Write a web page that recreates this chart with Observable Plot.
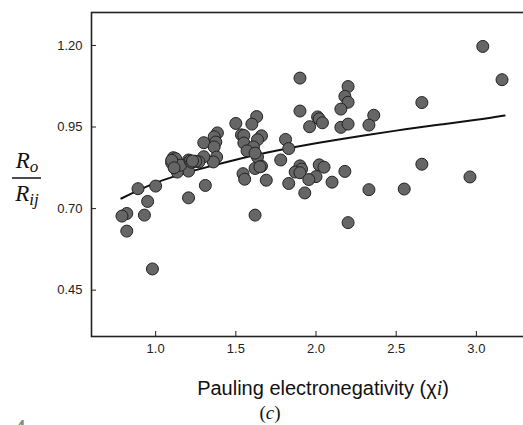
<!DOCTYPE html>
<html>
<head>
<meta charset="utf-8">
<script src="https://cdn.jsdelivr.net/npm/d3@7"></script>
<script src="https://cdn.jsdelivr.net/npm/@observablehq/plot@0.6"></script>
<style>
  html, body { margin: 0; padding: 0; background: #fff; overflow: hidden; }
  #wrap { position: relative; width: 523px; height: 425px; overflow: hidden; background: #fff; }
  #chart { position: absolute; left: 0; top: 0; width: 545px; }
  #chart svg { max-width: none !important; }
  #labels { position: absolute; left: 0; top: 0; }
</style>
</head>
<body>
<div id="wrap">
  <div id="chart"></div>
  <svg id="labels" width="523" height="425">
    <text x="323" y="395" text-anchor="middle" font-family="Liberation Sans, Arial, sans-serif" font-size="20" fill="#111">Pauling electronegativity (χ<tspan font-family="Liberation Serif, serif" font-style="italic">i</tspan>)</text>
    <text x="270" y="419" text-anchor="middle" font-family="Liberation Serif, serif" font-size="19" fill="#111">(<tspan font-style="italic">c</tspan>)</text>
    <text x="27" y="168" text-anchor="middle" font-family="Liberation Serif, serif" font-style="italic" font-size="23" fill="#111">R<tspan font-size="17" dy="4">o</tspan></text>
    <line x1="12" x2="41" y1="178" y2="178" stroke="#111" stroke-width="1.5"/>
    <text x="27" y="201" text-anchor="middle" font-family="Liberation Serif, serif" font-style="italic" font-size="23" fill="#111">R<tspan font-size="17" dy="4">ij</tspan></text>
    <text x="27" y="441" text-anchor="end" font-family="Liberation Serif, serif" font-size="32" fill="#888">e 4</text>
  </svg>
</div>
<script>
// Scatter data (Pauling electronegativity vs Ro/Rij)
const chi = [3.04,3.16,1.90,2.20,2.18,2.20,2.155,2.66,1.90,2.01,2.02,2.04,1.96,2.155,2.20,2.36,2.33,
  1.63,1.60,1.50,1.535,1.55,1.55,1.66,1.635,1.61,1.57,1.635,1.66,1.62,1.545,1.555,1.69,1.62,1.62,1.65,
  1.81,1.83,1.78,1.83,1.90,1.91,1.87,1.90,2.02,2.05,2.00,1.955,2.10,1.93,2.18,2.20,2.33,2.55,2.66,2.96,
  1.385,1.365,1.375,1.30,1.365,1.38,1.36,1.30,1.27,1.25,1.22,1.205,1.20,1.205,1.135,1.11,1.10,1.125,1.155,
  1.215,1.225,1.23,1.10,1.115,1.31,1.205,1.00,0.89,0.95,0.93,0.82,0.79,0.82,0.98];
const ratio = [1.197,1.095,1.100,1.074,1.044,1.026,1.005,1.025,0.999,0.981,0.975,0.963,0.951,0.949,0.959,0.986,0.956,
  0.982,0.959,0.961,0.926,0.924,0.901,0.923,0.911,0.889,0.877,0.858,0.830,0.823,0.807,0.790,0.787,0.680,0.870,0.828,
  0.912,0.884,0.849,0.777,0.831,0.821,0.812,0.810,0.834,0.827,0.798,0.789,0.781,0.748,0.814,0.657,0.758,0.760,0.836,0.797,
  0.932,0.920,0.904,0.902,0.889,0.858,0.843,0.859,0.843,0.845,0.843,0.849,0.840,0.815,0.812,0.856,0.840,0.853,0.833,
  0.846,0.842,0.846,0.848,0.825,0.771,0.733,0.769,0.761,0.722,0.680,0.685,0.677,0.631,0.515];

// Fitted trend line
const fitX = [0.786,1.0,1.25,1.5,1.75,2.0,2.25,2.5,2.75,3.0,3.176];
const fitY = [0.731,0.779,0.818,0.850,0.877,0.900,0.920,0.939,0.956,0.972,0.985];

// Tick values
const xTicks = [1.0,1.5,2.0,2.5,3.0];
const yTicks = [0.45,0.70,0.95,1.20];

const points = chi.map((x, i) => ({x, y: ratio[i]}));
const fit = fitX.map((x, i) => ({x, y: fitY[i]}));

const chart = Plot.plot({
  width: 545,
  height: 365,
  marginLeft: 91,
  marginRight: 13,
  marginTop: 12,
  marginBottom: 29,
  style: {fontFamily: "Liberation Sans, Arial, sans-serif", fontSize: "13px", color: "#222", background: "transparent", maxWidth: "none"},
  x: {domain: [0.6, 3.35]},
  y: {domain: [0.308, 1.301]},
  marks: [
    Plot.axisX({ticks: xTicks, tickFormat: d3.format(".1f"), tickSize: -5, tickPadding: 12, label: null, stroke: "#222", fill: "#222", fontSize: 13}),
    Plot.axisY({ticks: yTicks, tickFormat: d3.format(".2f"), tickSize: -5, tickPadding: 14, label: null, stroke: "#222", fill: "#222", fontSize: 13}),
    Plot.line(fit, {x: "x", y: "y", curve: "natural", stroke: "#111", strokeWidth: 2}),
    Plot.dot(points, {x: "x", y: "y", r: 6, fill: "#666", stroke: "#222", strokeWidth: 1}),
    Plot.frame({stroke: "#222", strokeWidth: 1.6})
  ]
});
document.getElementById("chart").appendChild(chart);
</script>
</body>
</html>
